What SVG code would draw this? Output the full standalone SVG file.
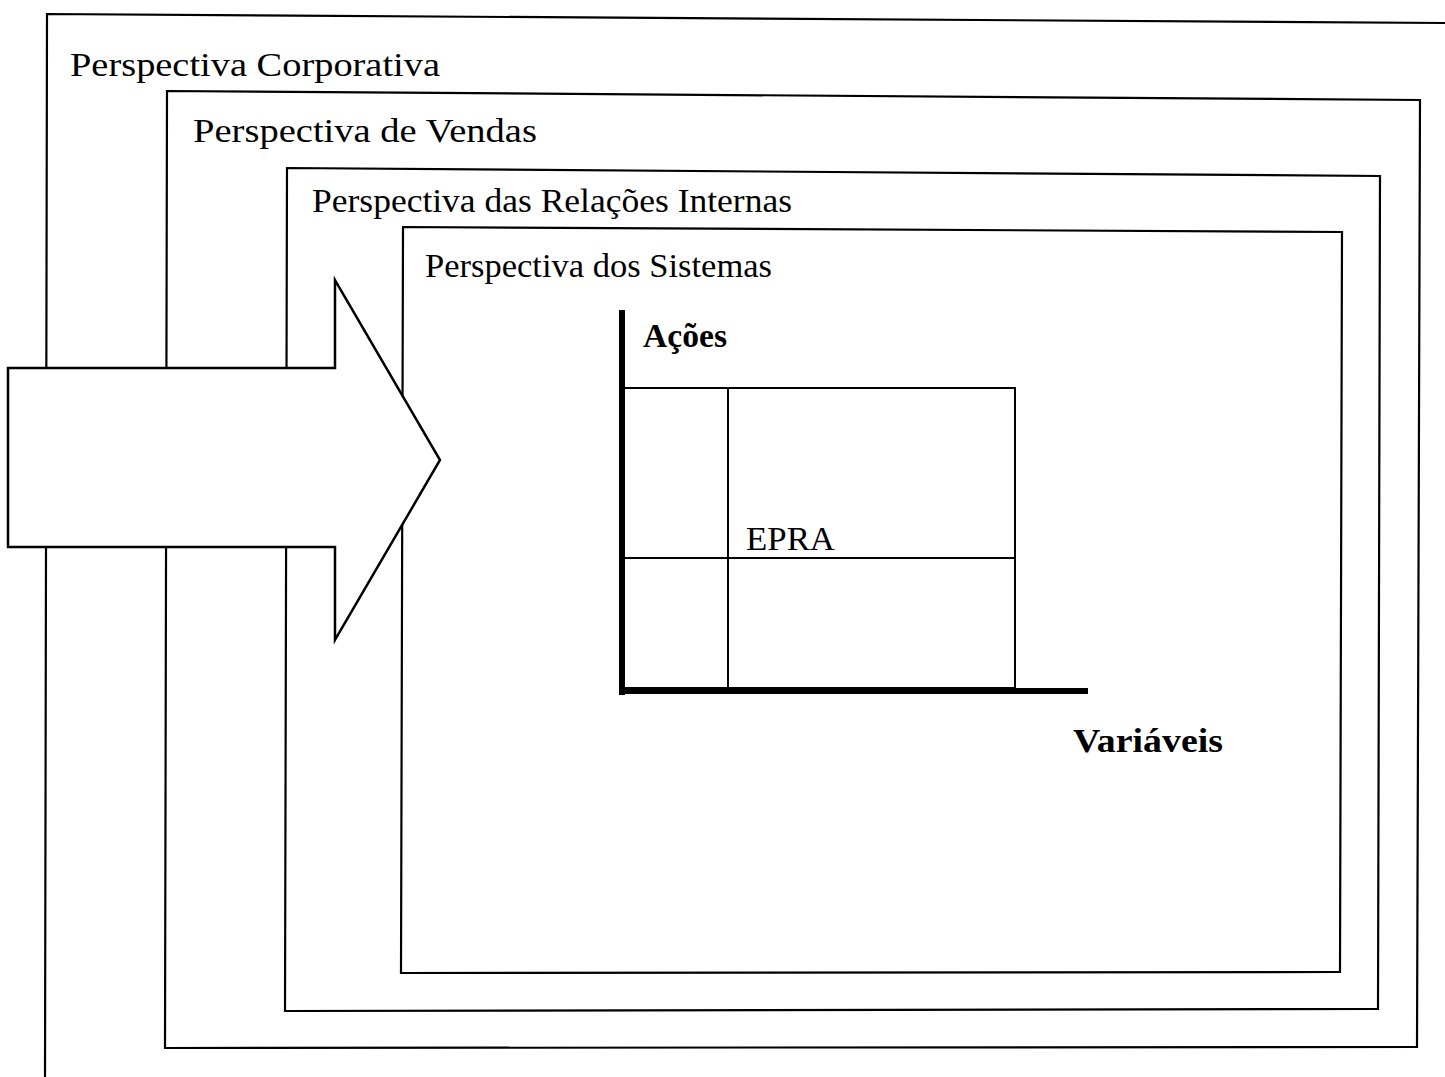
<svg xmlns="http://www.w3.org/2000/svg" width="1445" height="1077" viewBox="0 0 1445 1077">
<style>
.box{fill:none;stroke:#000;stroke-width:2.2;stroke-linejoin:miter}
.t{font-family:"Liberation Serif","Times New Roman",serif;font-size:34px;fill:#000}
.b{font-weight:bold}
.axis{stroke:#000;stroke-width:6;fill:none}
.grid{stroke:#000;stroke-width:2;fill:none}
</style>
<rect width="1445" height="1077" fill="#fff"/>
<g id="corporativa">
<polyline class="box" points="45,1080 47,14 1447,23"/>
<text class="t" x="70" y="76" textLength="370" lengthAdjust="spacingAndGlyphs">Perspectiva Corporativa</text>
</g>
<g id="vendas">
<polygon class="box" points="167,91 1420,100 1417,1047 165,1048"/>
<text class="t" x="193" y="142" textLength="344" lengthAdjust="spacingAndGlyphs">Perspectiva de Vendas</text>
</g>
<g id="relacoes">
<polygon class="box" points="287,168 1380,176 1378,1009 285,1011"/>
<text class="t" x="312" y="212" textLength="480" lengthAdjust="spacingAndGlyphs">Perspectiva das Relações Internas</text>
</g>
<g id="sistemas">
<polygon class="box" points="403,227 1342,232 1340,972 401,973"/>
<text class="t" x="425" y="277" textLength="347" lengthAdjust="spacingAndGlyphs">Perspectiva dos Sistemas</text>
</g>
<g id="seta">
<polygon points="8,368 335,368 335,280 440,460 335,640 335,547 8,547" fill="#fff" stroke="#000" stroke-width="2.5" stroke-linejoin="miter"/>
</g>
<g id="matriz">
<rect class="grid" x="622" y="388" width="393" height="300"/>
<line class="grid" x1="728" y1="388" x2="728" y2="689"/>
<line class="grid" x1="622" y1="558" x2="1015" y2="558"/>
<text class="t" x="746" y="550" font-size="32" textLength="89" lengthAdjust="spacingAndGlyphs">EPRA</text>
</g>
<g id="eixos">
<line class="axis" x1="622" y1="310" x2="622" y2="695"/>
<line class="axis" x1="619" y1="691" x2="1088" y2="691"/>
<text class="t b" x="643" y="347" textLength="84" lengthAdjust="spacingAndGlyphs">Ações</text>
<text class="t b" x="1073" y="752" textLength="150" lengthAdjust="spacingAndGlyphs">Variáveis</text>
</g>
</svg>
